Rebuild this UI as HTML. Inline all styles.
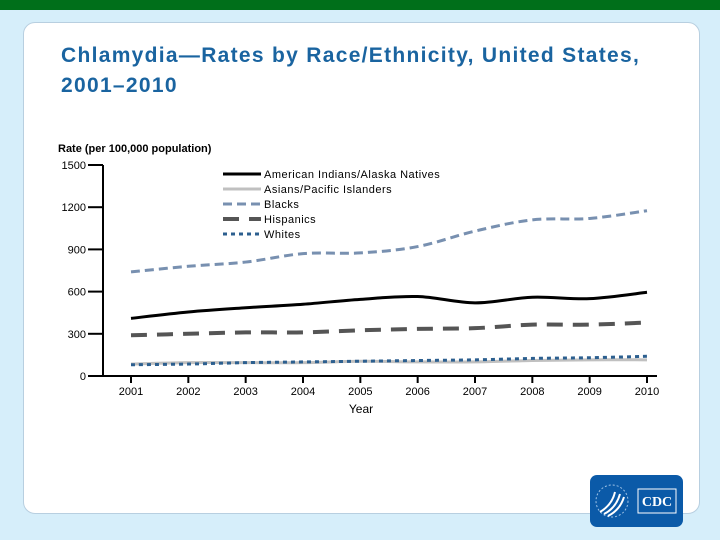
<!DOCTYPE html>
<html><head><meta charset="utf-8"><style>
body{margin:0;width:720px;height:540px;overflow:hidden;background:#d6eefa;font-family:"Liberation Sans",sans-serif;position:relative}
#topbar{position:absolute;left:0;top:0;width:720px;height:10px;background:#006f1a}
#panel{position:absolute;left:23px;top:22px;width:675px;height:490px;background:#fff;border-radius:12px;border:1px solid #b8cfe0}
#title{position:absolute;left:61px;top:41px;font-size:21px;letter-spacing:1.3px;font-weight:bold;color:#1a64a0;line-height:30px}
svg{position:absolute;left:0;top:0}
</style></head><body>
<div id="topbar"></div>
<div id="panel"></div>
<div id="title">Chlamydia—Rates by Race/Ethnicity, United States,<br>2001–2010</div>
<svg id="chart" width="720" height="540">
<g>
<rect x="590" y="475" width="93" height="52" rx="7" fill="#0b5aa8"/>
<circle cx="612" cy="501" r="16" fill="none" stroke="#9fc2e6" stroke-width="1" stroke-dasharray="2 2"/>
<path d="M600 512 Q612 505 615 492 M604 514 Q616 508 620 494 M608 516 Q620 510 624 497" stroke="#fff" stroke-width="2" fill="none"/>
<rect x="638" y="489" width="38" height="24" fill="none" stroke="#fff"/>
<text x="657" y="506" font-family="Liberation Serif" font-weight="bold" font-size="14" fill="#fff" text-anchor="middle">CDC</text>
</g>
</svg>
<script>
const years=[2001,2002,2003,2004,2005,2006,2007,2008,2009,2010];
const yTicks=[0,300,600,900,1200,1500];
const aian=[410,455,485,510,545,565,520,560,550,595];
const asian=[85,95,95,95,105,100,100,110,115,115];
const blacks=[740,780,810,870,875,920,1030,1110,1120,1175];
const hisp=[290,300,310,310,325,335,340,365,365,380];
const whites=[80,85,95,100,105,110,115,125,130,140];
const NS='http://www.w3.org/2000/svg';
const svg=document.getElementById('chart');
const x=i=>131+i*(647-131)/(years.length-1);
const y=v=>376-v*(376-165)/1500;
function el(t,a,p){const e=document.createElementNS(NS,t);for(const k in a)e.setAttribute(k,a[k]);(p||svg).appendChild(e);return e;}
function txt(s,a){const e=el('text',Object.assign({'font-family':'Liberation Sans','font-size':11,fill:'#000'},a));e.textContent=s;return e;}
const yl=txt('Rate (per 100,000 population)',{x:58,y:152,'font-weight':'bold'});

const ax=el('path',{d:`M103 ${y(1500)} V376 H657`,stroke:'#000','stroke-width':2,fill:'none'});

yTicks.forEach(v=>{
 const t=el('line',{x1:88,x2:103,y1:y(v),y2:y(v),stroke:'#000','stroke-width':2});
 
 const l=txt(String(v),{x:86,y:y(v)+4,'text-anchor':'end'});
 
});
years.forEach((yr,i)=>{
 const t=el('line',{x1:x(i),x2:x(i),y1:376,y2:383,stroke:'#000','stroke-width':2});
 
 const l=txt(String(yr),{x:x(i),y:395,'text-anchor':'middle'});
 
});
const xl=txt('Year',{x:361,y:413,'text-anchor':'middle','font-size':12});

function smooth(vals){
 const p=vals.map((v,i)=>[x(i),y(v)]);let d=`M${p[0][0]} ${p[0][1]}`;
 for(let i=0;i<p.length-1;i++){const p0=p[i-1]||p[i],p1=p[i],p2=p[i+1],p3=p[i+2]||p2;
  d+=` C${p1[0]+(p2[0]-p0[0])/6} ${p1[1]+(p2[1]-p0[1])/6} ${p2[0]-(p3[0]-p1[0])/6} ${p2[1]-(p3[1]-p1[1])/6} ${p2[0]} ${p2[1]}`;}
 return d;}
const series=[
 {n:'American Indians/Alaska Natives',v:aian,c:'#000',w:3,da:'',k:'aian'},
 {n:'Asians/Pacific Islanders',v:asian,c:'#c0c0c0',w:3,da:'',k:'asian'},
 {n:'Blacks',v:blacks,c:'#7890b0',w:3,da:'9 5',k:'blacks'},
 {n:'Hispanics',v:hisp,c:'#555',w:4,da:'16 10',k:'hispanics'},
 {n:'Whites',v:whites,c:'#2c5f8f',w:3,da:'4 4',k:'whites'}];
series.forEach((s,j)=>{
 const p=el('path',{d:smooth(s.v),stroke:s.c,'stroke-width':s.w,fill:'none','stroke-dasharray':s.da});
 
 const ly=174+j*15;
 const g=el('g',{});
 
 el('line',{x1:223,x2:261,y1:ly,y2:ly,stroke:s.c,'stroke-width':s.w,'stroke-dasharray':s.da},g);
 const t=el('text',{x:264,y:ly+4,'font-family':'Liberation Sans','font-size':11,'letter-spacing':'0.5'},g);t.textContent=s.n;
});
</script>
</body></html>
